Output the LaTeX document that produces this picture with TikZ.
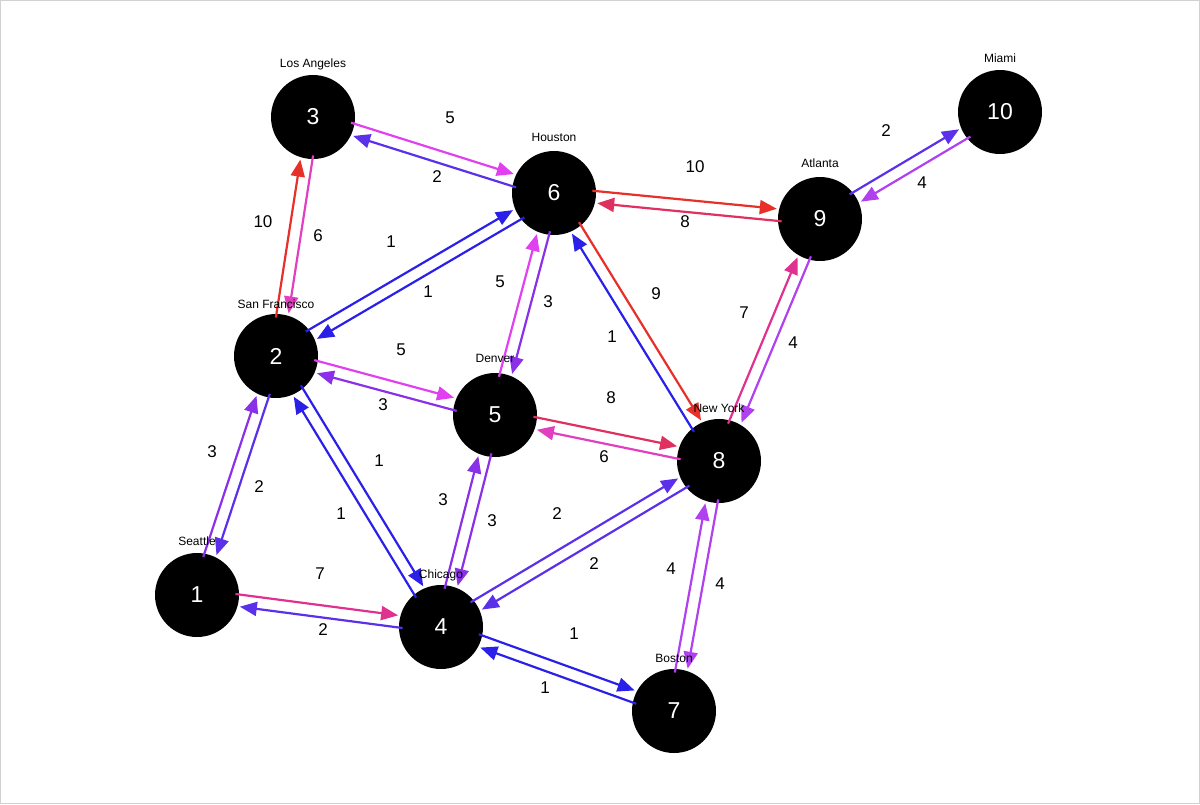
\documentclass[tikz,border=0pt]{standalone}
\usepackage{fontspec}
\setmainfont{Liberation Sans}
\usetikzlibrary{arrows.meta,calc}
\definecolor{cred}{HTML}{E8302A}
\definecolor{cmag}{HTML}{E040F0}
\definecolor{cpink}{HTML}{E040C0}
\definecolor{cblue}{HTML}{2A20E8}
\definecolor{cviol}{HTML}{5A30EA}
\definecolor{cpur}{HTML}{8A30E8}
\definecolor{cpurm}{HTML}{B040F0}
\definecolor{ccrim}{HTML}{E03060}
\definecolor{cpred}{HTML}{E03090}
\tikzset{
  city/.style={circle,fill=black,minimum size=84pt,inner sep=0pt,text=white,font=\fontsize{23}{23}\selectfont},
  cname/.style={font=\fontsize{12}{12}\selectfont},
  wlab/.style={font=\fontsize{17}{17}\selectfont},
  edgeline/.style={line width=2.2pt,-{Triangle[length=17pt,width=14pt]}}
}
\begin{document}
\begin{tikzpicture}[x=1pt,y=-1pt]
\draw[draw={rgb,255:red,210;green,210;blue,210},line width=1pt] (0.5,0.5) rectangle (1199.5,803.5);
\useasboundingbox (0,0) rectangle (1200,804);
\node[city] (n1) at (197,595) {1};
\node[city] (n2) at (276,356) {2};
\node[city] (n3) at (313,117) {3};
\node[city] (n4) at (441,627) {4};
\node[city] (n5) at (495,415) {5};
\node[city] (n6) at (554,193) {6};
\node[city] (n7) at (674,711) {7};
\node[city] (n8) at (719,461) {8};
\node[city] (n9) at (820,219) {9};
\node[city] (n10) at (1000,112) {10};
\foreach \s/\t/\c in {3/6/cmag,6/3/cviol,2/3/cred,3/2/cpink,2/6/cblue,6/2/cblue,5/6/cmag,6/5/cpur,
  2/5/cmag,5/2/cpur,6/9/cred,9/6/ccrim,6/8/cred,8/6/cblue,9/10/cviol,10/9/cpurm,8/9/cpred,9/8/cpurm,
  5/8/ccrim,8/5/cpink,2/1/cviol,1/2/cpur,2/4/cblue,4/2/cblue,1/4/cpred,4/1/cviol,4/5/cpur,5/4/cpur,
  4/8/cviol,8/4/cviol,4/7/cblue,7/4/cblue,7/8/cpurm,8/7/cpurm}{
  \draw[edgeline,draw=\c,fill=\c]
    ($($(n\s.center)!38pt!(n\t.center)$)!6pt!90:(n\t.center)$) --
    ($($(n\t.center)!44pt!(n\s.center)$)!6pt!-90:(n\s.center)$);
}
\node[cname] (c1) at (197,541) {Seattle};
\node[cname] (c2) at (276,304) {San Francisco};
\node[cname] (c3) at (313,64) {Los Angeles};
\node[cname] (c4) at (441,575) {Chicago};
\node[cname] (c5) at (495,358) {Denver};
\node[cname] (c6) at (554,137) {Houston};
\node[cname] (c7) at (674,658) {Boston};
\node[cname] (c8) at (719,408) {New York};
\node[cname] (c9) at (820,163) {Atlanta};
\node[cname] (c10) at (1000,58) {Miami};
\foreach \x/\y/\w [count=\i] in {450/118/5,437/177/2,263/222/10,318/236/6,391/242/1,428/292/1,500/282/5,548/302/3,
  695/167/10,685/222/8,656/294/9,612/337/1,886/131/2,922/183/4,744/313/7,793/343/4,401/350/5,383/405/3,
  611/398/8,604/457/6,212/452/3,259/487/2,379/461/1,341/514/1,443/500/3,492/521/3,557/514/2,594/564/2,
  320/574/7,323/630/2,574/634/1,545/688/1,671/569/4,720/584/4}{
  \node[wlab] (w\i) at (\x,\y) {\w};
}
\end{tikzpicture}
\end{document}
